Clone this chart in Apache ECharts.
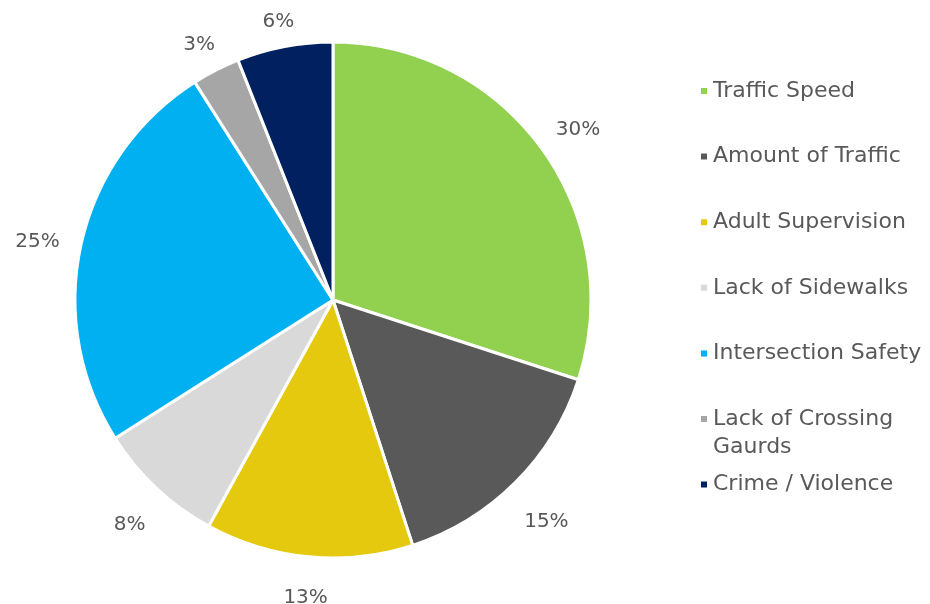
<!DOCTYPE html>
<html><head><meta charset="utf-8">
<script src="https://cdn.jsdelivr.net/npm/echarts@6/dist/echarts.min.js"></script>
<style>html,body{margin:0;padding:0;background:#fff}#c{width:930px;height:604px}</style>
</head><body><div id="c"></div>
<script>
const categories = ["Traffic Speed","Amount of Traffic","Adult Supervision","Lack of Sidewalks","Intersection Safety","Lack of Crossing Gaurds","Crime / Violence"];
const values = [30,15,13,8,25,3,6];
const colors = ["#92D050","#595959","#E5C90E","#D9D9D9","#00B0F0","#A6A6A6","#002060"];
const FONT = "DejaVu Sans";
const CX = 333, CY = 300, R = 258, GAP = 21;
const total = values.reduce((a,b)=>a+b,0);
const chart = echarts.init(document.getElementById('c'));
chart.setOption({
  animation:false,
  color: colors,
  legend:{
    orient:'vertical', left:694, top:72, itemWidth:8, itemHeight:8, itemGap:37.6, icon:'rect',
    data: categories,
    formatter: n => n === "Lack of Crossing Gaurds" ? "Lack of Crossing" : n,
    textStyle:{fontFamily:FONT, fontSize:22, color:'#595959', lineHeight:28}
  },
  graphic:[{type:'text', left:713, top:436, style:{text:'Gaurds', font:'22px "DejaVu Sans"', fill:'#595959'}}],
  series:[{
    type:'pie', center:[CX,CY], radius:R, startAngle:90, clockwise:true,
    itemStyle:{borderColor:'#fff', borderWidth:3},
    label:{show:true, position:'outside', formatter:'{c}%', fontFamily:FONT, fontSize:20, color:'#595959'},
    labelLine:{show:false, length:18, length2:0},
    labelLayout: function(p){
      const i = p.dataIndex;
      let cum = 0; for (let k=0;k<i;k++) cum += values[k];
      const th = (cum + values[i]/2) / total * 2 * Math.PI;
      const ux = Math.sin(th), uy = -Math.cos(th);
      const w = p.labelRect.width, h = p.labelRect.height;
      const d = R + GAP + Math.abs(ux)*w/2 + Math.abs(uy)*h/2;
      return {x: CX + ux*d, y: CY + uy*d + 8, align:'center', verticalAlign:'middle'};
    },
    data: categories.map((n,i)=>({name:n, value:values[i]}))
  }]
});
</script></body></html>
